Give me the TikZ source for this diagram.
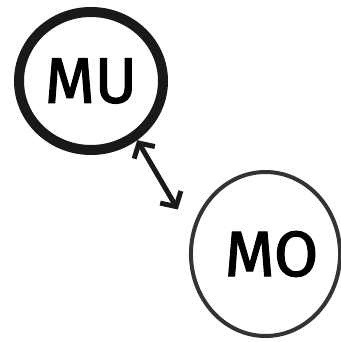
\documentclass[tikz,border=0pt]{standalone}
\usepackage{fontspec}
\setmainfont[FakeBold=2]{Fira Sans}
\usetikzlibrary{shapes.geometric,arrows.meta}
\tikzset{
  bubble/.style={ellipse,draw=black!90,inner sep=0pt,font=\fontsize{64}{64}\selectfont},
  link/.style={line width=5pt,draw=black!90,line cap=round,
    {Straight Barb[length=11pt,width=24pt,line width=5pt]}-{Straight Barb[length=11pt,width=24pt,line width=5pt]}}
}
\begin{document}
\begin{tikzpicture}[x=1pt,y=-1pt]
\useasboundingbox (0,0) rectangle (340,342);
\fill[white] (0,0) rectangle (340,342);
\node[bubble,line width=10pt,minimum width=144pt,minimum height=138pt] (mu) at (91,81) {MU\hspace{20pt}};
\node[bubble,line width=4pt,draw=black!80,minimum width=135pt,minimum height=164pt] (mo) at (265.5,254) {\hspace{12pt}MO};
\draw[link,shorten >=27pt] (mu.-52) -- (mo.164);
\end{tikzpicture}
\end{document}
